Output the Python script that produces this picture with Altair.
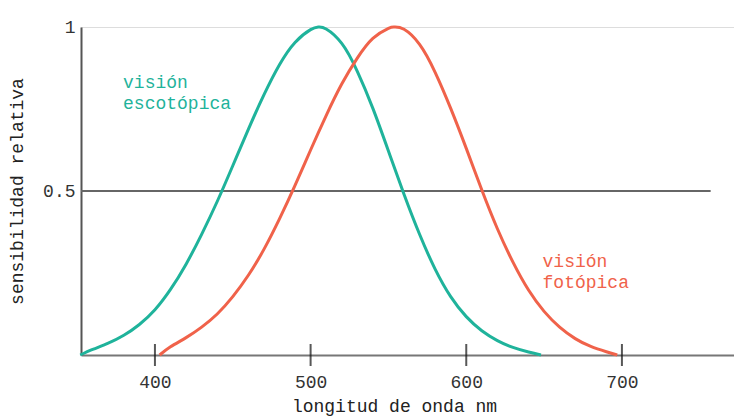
import altair as alt
import pandas as pd

# Scotopic (teal) curve: wavelength nm, relative sensitivity
esc_nm = [352, 360, 370, 380, 390, 400, 410, 420, 430, 440, 450, 460, 470, 480, 490, 500, 505,
          510, 520, 530, 540, 550, 560, 570, 580, 590, 600, 610, 620, 630, 640, 648]
esc_val = [0.0, 0.017, 0.036, 0.06, 0.093, 0.138, 0.2, 0.277, 0.368, 0.468, 0.577, 0.688, 0.793, 0.885, 0.953, 0.992, 1.0,
           0.994, 0.95, 0.865, 0.752, 0.622, 0.49, 0.368, 0.262, 0.178, 0.117, 0.074, 0.044, 0.023, 0.009, 0.0]

# Photopic (red) curve
fot_nm = [403, 410, 420, 430, 440, 450, 460, 470, 480, 490, 500, 510, 520, 530, 540, 550, 554,
          560, 570, 580, 590, 600, 610, 620, 630, 640, 650, 660, 670, 680, 690, 697]
fot_val = [0.0, 0.025, 0.053, 0.085, 0.125, 0.178, 0.243, 0.322, 0.415, 0.517, 0.625, 0.73, 0.826, 0.905, 0.965, 0.996, 1.0,
           0.993, 0.947, 0.862, 0.752, 0.63, 0.503, 0.385, 0.283, 0.198, 0.133, 0.085, 0.05, 0.026, 0.01, 0.0]

x_ticks = [400, 500, 600, 700]
y_ticks = [0.5, 1]

FONT = "Liberation Mono"
FS = 18
TEAL = "#1fb39b"
RED = "#f0624a"

esc = pd.DataFrame({"nm": esc_nm, "v": esc_val, "s": "esc"})
fot = pd.DataFrame({"nm": fot_nm, "v": fot_val, "s": "fot"})
curves = pd.concat([esc, fot])

xs = alt.Scale(domain=[352.5, 772], nice=False, zero=False)
ys = alt.Scale(domain=[0, 1], nice=False)

xaxis = alt.Axis(values=x_ticks, ticks=False, grid=False, domainColor="#777", domainWidth=2,
                 labelFont=FONT, labelFontSize=FS, labelColor="#333", labelPadding=18,
                 title="longitud de onda nm", titleFont=FONT, titleFontSize=FS,
                 titleFontWeight="normal", titleColor="#222", titlePadding=6, titleX=313)
yaxis = alt.Axis(values=y_ticks, ticks=False, grid=False, domainColor="#555", domainWidth=2,
                 labelFont=FONT, labelFontSize=FS, labelColor="#333", labelPadding=6,
                 labelExpr="datum.value == 1 ? '1' : format(datum.value, '.1f')",
                 title="sensibilidad relativa", titleFont=FONT, titleFontSize=FS,
                 titleFontWeight="normal", titleColor="#222", titlePadding=16)

lines = alt.Chart(curves).mark_line(strokeWidth=3, interpolate="natural").encode(
    x=alt.X("nm:Q", scale=xs, axis=xaxis),
    y=alt.Y("v:Q", scale=ys, axis=yaxis),
    color=alt.Color("s:N", scale=alt.Scale(domain=["esc", "fot"], range=[TEAL, RED]), legend=None),
)

half = alt.Chart(pd.DataFrame({"a": [352.5], "b": [757], "y": [0.5]})).mark_rule(
    color="#666", strokeWidth=2).encode(
    x=alt.X("a:Q", scale=xs), x2="b:Q", y=alt.Y("y:Q", scale=ys))

ticks = alt.Chart(pd.DataFrame({"t": x_ticks, "y": [0] * 4})).mark_tick(
    orient="vertical", size=22, thickness=2, color="#111").encode(
    x=alt.X("t:Q", scale=xs), y=alt.Y("y:Q", scale=ys))

labels = pd.DataFrame({
    "x": [379.5, 379.5, 649, 649],
    "y": [0.829, 0.765, 0.284, 0.22],
    "t": ["visión", "escotópica", "visión", "fotópica"],
    "c": ["esc", "esc", "fot", "fot"],
})
text = alt.Chart(labels).mark_text(font=FONT, fontSize=FS, align="left", baseline="middle").encode(
    x=alt.X("x:Q", scale=xs), y=alt.Y("y:Q", scale=ys), text="t:N",
    color=alt.Color("c:N", scale=alt.Scale(domain=["esc", "fot"], range=["#2aa88e", "#d85a58"]), legend=None),
)

chart = alt.layer(half, lines, ticks, text).properties(
    width=653, height=328,
    padding={"left": 81, "top": 27, "right": 0, "bottom": 64},
    autosize=alt.AutoSizeParams(type="none"),
).configure_view(stroke=None).configure_axis(grid=False).configure(background="white")

chart.save("out.html", embed_options={"renderer": "svg", "actions": False})
